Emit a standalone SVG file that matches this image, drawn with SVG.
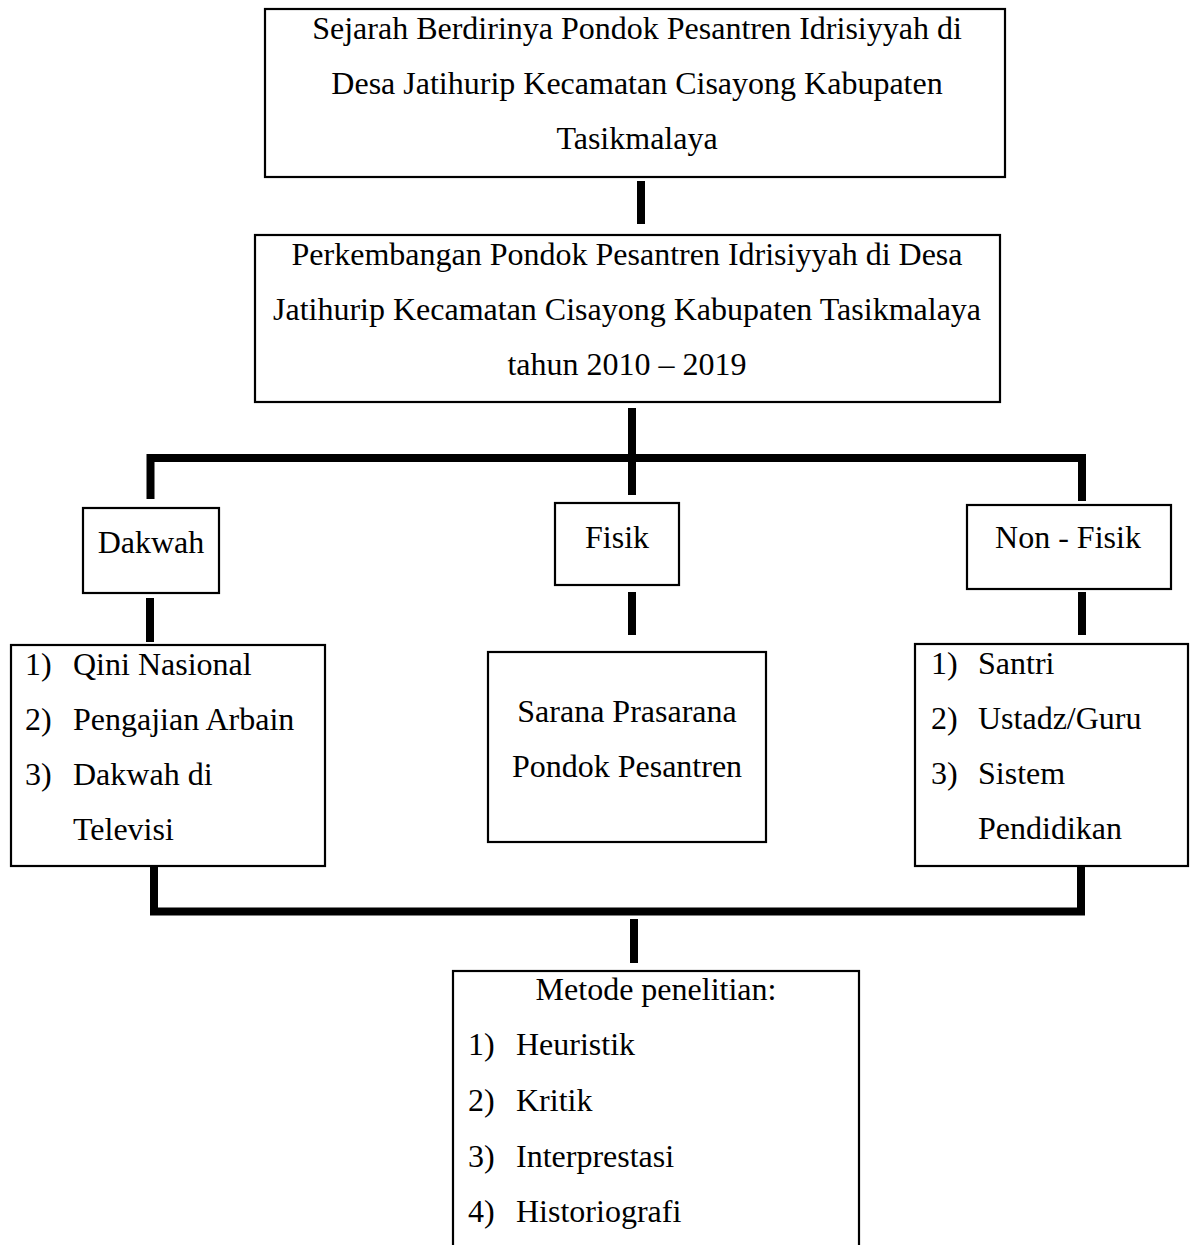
<svg xmlns="http://www.w3.org/2000/svg" width="1190" height="1245" viewBox="0 0 1190 1245">
<style>
  .box { fill: #ffffff; stroke: #000000; stroke-width: 2.2; }
  .t { font-family: "Liberation Serif", "Times New Roman", serif; font-size: 32px; fill: #000000; }
  .c { text-anchor: middle; }
  .conn { fill: none; stroke: #000000; stroke-width: 8; stroke-linejoin: miter; stroke-linecap: butt; }
</style>
<rect width="1190" height="1245" fill="#ffffff"/>
<g id="connectors">
  <line class="conn" x1="641" y1="181" x2="641" y2="224" stroke-width="7"/>
  <line class="conn" x1="632" y1="408" x2="632" y2="495"/>
  <path class="conn" d="M150.5 499 V458 H1082 V501"/>
  <line class="conn" x1="150" y1="598" x2="150" y2="642"/>
  <line class="conn" x1="632" y1="592" x2="632" y2="635"/>
  <line class="conn" x1="1082" y1="592" x2="1082" y2="635"/>
  <path class="conn" d="M154 863 V911.5 H1081 V866"/>
  <line class="conn" x1="634" y1="919" x2="634" y2="963"/>
</g>
<g id="sejarah">
  <rect class="box" x="265" y="9" width="740" height="168"/>
  <text class="t c" x="637" y="39">Sejarah Berdirinya Pondok Pesantren Idrisiyyah di</text>
  <text class="t c" x="637" y="94">Desa Jatihurip Kecamatan Cisayong Kabupaten</text>
  <text class="t c" x="637" y="149">Tasikmalaya</text>
</g>
<g id="perkembangan">
  <rect class="box" x="255" y="235" width="745" height="167"/>
  <text class="t c" x="627" y="265">Perkembangan Pondok Pesantren Idrisiyyah di Desa</text>
  <text class="t c" x="627" y="320">Jatihurip Kecamatan Cisayong Kabupaten Tasikmalaya</text>
  <text class="t c" x="627" y="375">tahun 2010 – 2019</text>
</g>
<g id="dakwah">
  <rect class="box" x="83" y="508" width="136" height="85"/>
  <text class="t c" x="151" y="553">Dakwah</text>
</g>
<g id="fisik">
  <rect class="box" x="555" y="503" width="124" height="82"/>
  <text class="t c" x="617" y="548">Fisik</text>
</g>
<g id="nonfisik">
  <rect class="box" x="967" y="505" width="204" height="84"/>
  <text class="t c" x="1068" y="548">Non - Fisik</text>
</g>
<g id="dakwah-list">
  <rect class="box" x="11" y="645" width="314" height="221"/>
  <text class="t" x="25" y="675">1)</text><text class="t" x="73" y="675">Qini Nasional</text>
  <text class="t" x="25" y="730">2)</text><text class="t" x="73" y="730">Pengajian Arbain</text>
  <text class="t" x="25" y="785">3)</text><text class="t" x="73" y="785">Dakwah di</text>
  <text class="t" x="73" y="840">Televisi</text>
</g>
<g id="sarana">
  <rect class="box" x="488" y="652" width="278" height="190"/>
  <text class="t c" x="627" y="722">Sarana Prasarana</text>
  <text class="t c" x="627" y="777">Pondok Pesantren</text>
</g>
<g id="nonfisik-list">
  <rect class="box" x="915" y="644" width="273" height="222"/>
  <text class="t" x="931" y="674">1)</text><text class="t" x="978" y="674">Santri</text>
  <text class="t" x="931" y="729">2)</text><text class="t" x="978" y="729">Ustadz/Guru</text>
  <text class="t" x="931" y="784">3)</text><text class="t" x="978" y="784">Sistem</text>
  <text class="t" x="978" y="839">Pendidikan</text>
</g>
<g id="metode">
  <rect class="box" x="453" y="971" width="406" height="290"/>
  <text class="t c" x="656" y="1000">Metode penelitian:</text>
  <text class="t" x="468" y="1055">1)</text><text class="t" x="516" y="1055">Heuristik</text>
  <text class="t" x="468" y="1111">2)</text><text class="t" x="516" y="1111">Kritik</text>
  <text class="t" x="468" y="1167">3)</text><text class="t" x="516" y="1167">Interprestasi</text>
  <text class="t" x="468" y="1222">4)</text><text class="t" x="516" y="1222">Historiografi</text>
</g>
</svg>
